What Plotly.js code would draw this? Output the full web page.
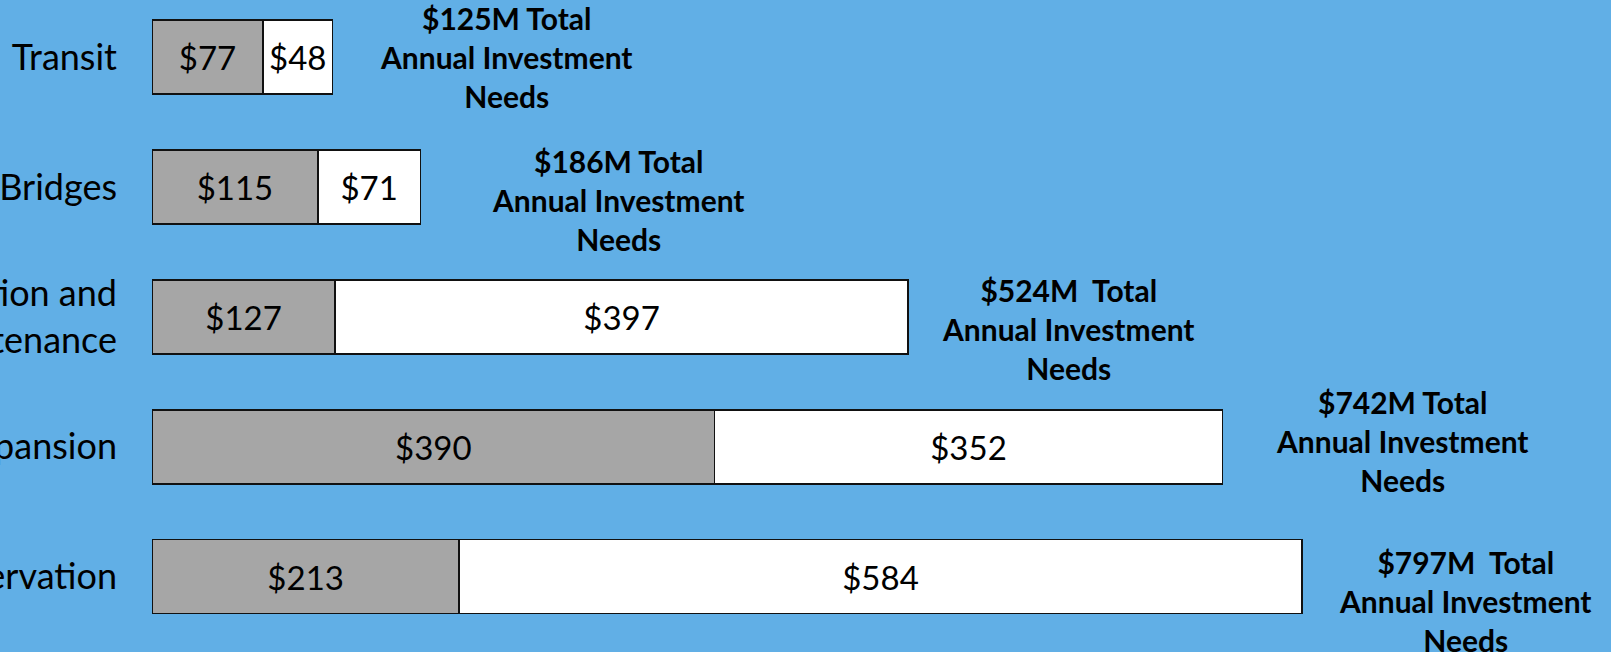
<!DOCTYPE html>
<html>
<head>
<meta charset="utf-8">
<script src="https://cdn.plot.ly/plotly-3.0.1.min.js"></script>
<style>html,body{margin:0;padding:0;background:#61AFE6;}#chart{width:1611px;height:652px;}</style>
</head>
<body>
<div id="chart"></div>
<script>
// Data
const categories = ['Transit', 'Bridges', 'Operation and Maintenance', 'Expansion', 'Preservation'];
const tickLabels = ['Transit', 'Bridges', 'Operation and<br>Maintenance', 'Expansion', 'Preservation'];
const funded = [77, 115, 127, 390, 213];
const unfunded = [48, 71, 397, 352, 584];
const totalSep = [' ', ' ', '\u00a0 ', ' ', '\u00a0 '];

// Annotation offsets (pixels) - style only
const noteXShift = [174, 198, 161, 180, 164];
const noteYShift = [0, -13, -12, 6, -24];

const totals = funded.map((v, i) => v + unfunded[i]);

const FONT = 'Lato, "Liberation Sans", sans-serif';

const traces = [
  {
    type: 'bar', orientation: 'h', name: 'Funded',
    y: categories, x: funded,
    text: funded.map(v => '$' + v),
    textposition: 'inside', insidetextanchor: 'middle', constraintext: 'none',
    textfont: {family: FONT, size: 33, color: '#000000'},
    marker: {color: '#A6A6A6', line: {color: '#111111', width: 1.6}},
    width: 0.57, hoverinfo: 'skip'
  },
  {
    type: 'bar', orientation: 'h', name: 'Unfunded',
    y: categories, x: unfunded,
    text: unfunded.map(v => '$' + v),
    textposition: 'inside', insidetextanchor: 'middle', constraintext: 'none',
    textfont: {family: FONT, size: 33, color: '#000000'},
    marker: {color: '#FFFFFF', line: {color: '#111111', width: 1.6}},
    width: 0.57, hoverinfo: 'skip'
  }
];

const annotations = categories.map((c, i) => ({
  x: totals[i], y: c, xref: 'x', yref: 'y',
  xanchor: 'center', yanchor: 'middle',
  xshift: noteXShift[i], yshift: noteYShift[i],
  text: '$' + totals[i] + 'M' + totalSep[i] + 'Total<br>Annual Investment<br>Needs',
  showarrow: false, align: 'center',
  font: {family: FONT, size: 30, color: '#000000', weight: 'bold'}
}));

const layout = {
  width: 1611, height: 652,
  margin: {l: 152, r: 0, t: 0, b: 0, pad: 0},
  paper_bgcolor: '#61AFE6', plot_bgcolor: '#61AFE6',
  barmode: 'stack', showlegend: false,
  xaxis: {range: [0, 1011.4], visible: false, fixedrange: true},
  yaxis: {
    type: 'category', range: [4.58, -0.439], automargin: false,
    tickvals: categories, ticktext: tickLabels,
    ticks: '', ticklabelstandoff: 34, showgrid: false, zeroline: false, showline: false,
    tickfont: {family: FONT, size: 36, color: '#000000'}, fixedrange: true
  },
  annotations: annotations
};

Plotly.newPlot('chart', traces, layout, {displayModeBar: false, staticPlot: true});
</script>
</body>
</html>
